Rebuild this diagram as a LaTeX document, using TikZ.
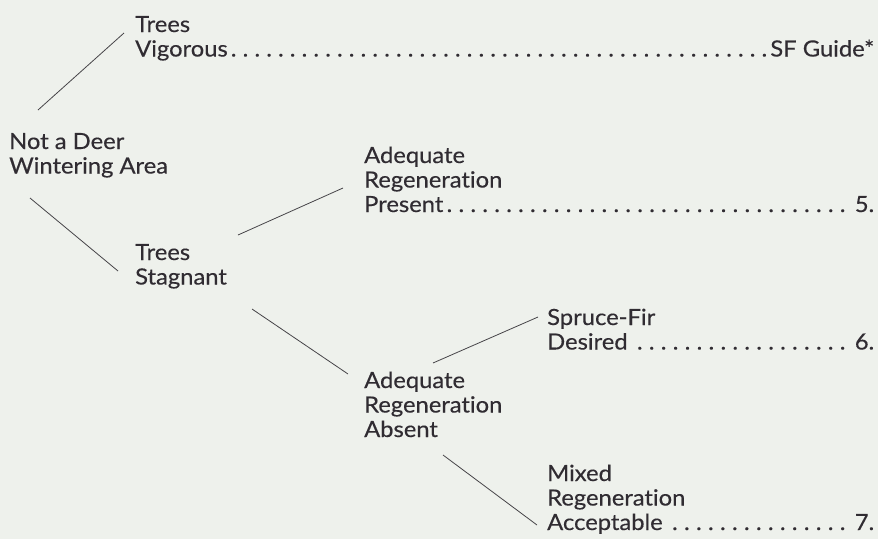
\documentclass[tikz,border=0pt]{standalone}
\usepackage{fontspec}
\setmainfont{Lato}[FakeStretch=1.065,FakeBold=0.3,Ligatures={NoCommon,NoDiscretionary}]
\definecolor{paper}{RGB}{238,241,236}
\definecolor{ink}{RGB}{48,44,50}
\definecolor{rule}{RGB}{70,68,72}
\newcommand\stk[1]{\vtop{\baselineskip=24.5pt\lineskip=0pt\lineskiplimit=-20pt #1}}
\newcommand\ldr{\xleaders\hbox to 11.7pt{\hss.\hss}\hfill}
\tikzset{
  txt/.style={anchor=base west, inner sep=0pt, text=ink, font=\fontsize{22.3pt}{24.5pt}\selectfont},
  branch/.style={draw=rule, line width=0.8pt}
}
\begin{document}
\begin{tikzpicture}[x=1pt,y=-1pt]
\fill[paper] (0,0) rectangle (878,539);
\useasboundingbox (0,0) rectangle (878,539);
\node[txt] (vig) at (135,32) {\stk{\hbox{Trees}\hbox to 739pt{Vigorous\ldr SF Guide*}}};
\node[txt] (notdeer) at (9,149) {\stk{\hbox{Not a Deer}\hbox{Wintering Area}}};
\node[txt] (stag) at (135,260) {\stk{\hbox{Trees}\hbox{Stagnant}}};
\node[txt] (present) at (364,163) {\stk{\hbox{Adequate}\hbox{Regeneration}\hbox to 510pt{Present\ldr\ 5.}}};
\node[txt] (spruce) at (547,325) {\stk{\hbox{Spruce-Fir}\hbox to 327pt{Desired\ \ldr\ 6.}}};
\node[txt] (absent) at (364,388) {\stk{\hbox{Adequate}\hbox{Regeneration}\hbox{Absent}}};
\node[txt] (mixed) at (547,481) {\stk{\hbox{Mixed}\hbox{Regeneration}\hbox to 327pt{Acceptable\ \ldr\ 7.}}};
\draw[branch] ([shift={(29,-39)}]notdeer.base west) -- ([shift={(-11,1)}]vig.base west);
\draw[branch] ([shift={(21,49)}]notdeer.base west) -- ([shift={(-17,11)}]stag.base west);
\draw[branch] ([shift={(103,-25)}]stag.base west) -- ([shift={(-21,25)}]present.base west);
\draw[branch] ([shift={(117,49)}]stag.base west) -- ([shift={(-16,-14)}]absent.base west);
\draw[branch] ([shift={(69,-25)}]absent.base west) -- ([shift={(-9,-8)}]spruce.base west);
\draw[branch] ([shift={(79,67)}]absent.base west) -- ([shift={(-10,44)}]mixed.base west);
\end{tikzpicture}
\end{document}
